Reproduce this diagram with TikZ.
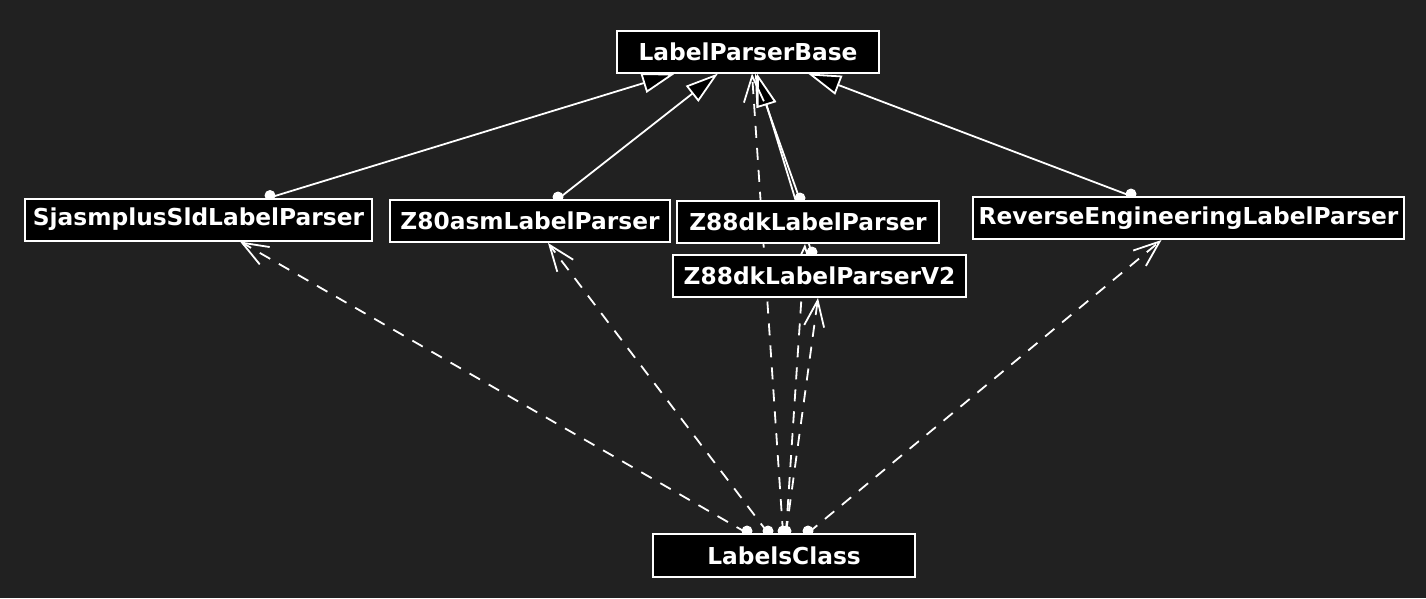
\documentclass[tikz,border=0pt]{standalone}
\usepackage{fontspec}
\setmainfont{DejaVu Sans}
\usetikzlibrary{arrows.meta,backgrounds}
\definecolor{bgc}{RGB}{33,33,33}
\begin{document}
\begin{tikzpicture}[x=1pt,y=-1pt,
  cls/.style={draw=white,fill=black,line width=2pt,text=white,
    font=\bfseries\fontsize{23.3}{27}\selectfont,inner sep=0pt,minimum height=42pt},
  inh/.style={draw=white,line width=1.8pt,
    -{Triangle[length=33pt,width=20pt,fill=black,line width=1.8pt]}},
  dep/.style={draw=white,line width=1.8pt,dash pattern=on 12pt off 10pt,
    -{Straight Barb[length=26pt,width=20pt,line width=1.8pt]}},
  dotc/.style={fill=white}]
\useasboundingbox (0,0) rectangle (1426,598);
\node[cls,minimum width=262pt] (base) at (748,51.5) {LabelParserBase};
\node[cls,minimum width=347pt] (sjas) at (198.5,219.5) {SjasmplusSldLabelParser};
\node[cls,minimum width=280pt] (z80) at (530,221) {Z80asmLabelParser};
\node[cls,minimum width=262pt] (z88) at (808,222) {Z88dkLabelParser};
\node[cls,minimum width=293pt] (v2) at (819.5,276) {Z88dkLabelParserV2};
\node[cls,minimum width=431pt] (rev) at (1188.5,218) {ReverseEngineeringLabelParser};
\node[cls,minimum width=262pt,minimum height=43pt] (lc) at (784,555.5) {LabelsClass};
\begin{pgfonlayer}{background}
\fill[bgc] (0,0) rectangle (1426,598);
% inheritance
\draw[inh] ([xshift=71.5pt]sjas.north) -- ([xshift=-73pt]base.south);
\draw[inh] ([xshift=28pt]z80.north) -- ([xshift=-30pt]base.south);
\draw[inh] ([xshift=-8pt]z88.north) -- ([xshift=7pt]base.south);
\draw[inh] ([xshift=-7.5pt]v2.north) -- ([xshift=9pt]base.south);
\draw[inh] ([xshift=-57.5pt]rev.north) -- ([xshift=60pt]base.south);
\fill[dotc] ([xshift=71.5pt,yshift=2pt]sjas.north) circle (5.5pt);
\fill[dotc] ([xshift=28pt,yshift=2pt]z80.north) circle (5.5pt);
\fill[dotc] ([xshift=-8pt,yshift=2pt]z88.north) circle (5.5pt);
\fill[dotc] ([xshift=-7.5pt,yshift=2pt]v2.north) circle (5.5pt);
\fill[dotc] ([xshift=-57.5pt,yshift=2pt]rev.north) circle (5.5pt);
% dependencies
\draw[dep] ([xshift=-37pt]lc.north) -- ([xshift=41.5pt]sjas.south);
\draw[dep] ([xshift=-16pt]lc.north) -- ([xshift=18pt]z80.south);
\draw[dep] ([xshift=-1pt]lc.north) -- ([xshift=4pt]base.south);
\draw[dep] ([xshift=2pt]lc.north) -- ([xshift=-3pt]z88.south);
\draw[dep] ([xshift=2pt]lc.north) -- ([xshift=-1.5pt]v2.south);
\draw[dep] ([xshift=24pt]lc.north) -- ([xshift=-27pt]rev.south);
\fill[dotc] ([xshift=-37pt,yshift=2pt]lc.north) circle (5.5pt);
\fill[dotc] ([xshift=-16pt,yshift=2pt]lc.north) circle (5.5pt);
\fill[dotc] ([xshift=-1pt,yshift=2pt]lc.north) circle (5.5pt);
\fill[dotc] ([xshift=2pt,yshift=2pt]lc.north) circle (5.5pt);
\fill[dotc] ([xshift=24pt,yshift=2pt]lc.north) circle (5.5pt);
\end{pgfonlayer}
\end{tikzpicture}
\end{document}
